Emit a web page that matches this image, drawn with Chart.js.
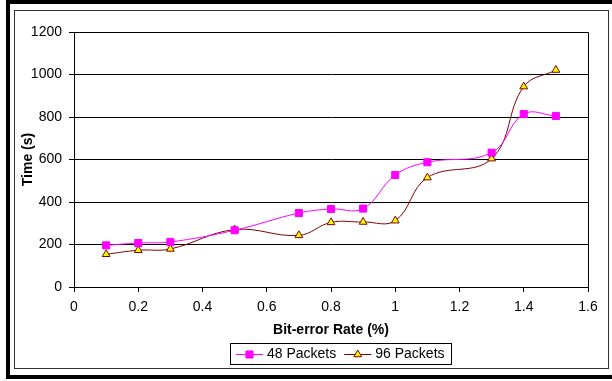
<!DOCTYPE html>
<html>
<head>
<meta charset="UTF-8" />
<title>Time vs Bit-error Rate</title>
<script src="https://cdn.jsdelivr.net/npm/chart.js"></script>
<style>
  body { margin: 0; background: #fff; width: 612px; height: 381px; overflow: hidden; position: relative; }
  .outer { position: absolute; left: 6px; top: 0; width: 620px; height: 371px; border: 4px solid #000; }
  .inner { position: absolute; left: 14px; top: 10px; width: 593px; height: 357px; border: 1px solid #333; }
  #chart { position: absolute; left: 15px; top: 11px; }
</style>
</head>
<body>
<div class="outer"></div>
<div class="inner"></div>
<canvas id="chart" width="592" height="356"></canvas>
<script>
// bit-error rate (%) at each measurement
const errorRates = [0.1, 0.2, 0.3, 0.5, 0.7, 0.8, 0.9, 1.0, 1.1, 1.3, 1.4, 1.5];
// time in seconds
const packets48 = [196, 207, 212, 267, 348, 367, 369, 527, 587, 632, 814, 805];
const packets96 = [154, 173, 179, 270, 243, 304, 306, 312, 515, 604, 943, 1021];
const seriesLabels = ['48 Packets', '96 Packets'];

const FONT = '"Liberation Sans", Arial, sans-serif';
const tickFont = { family: FONT, size: 14 };
const titleFont = { family: FONT, size: 14, weight: 'bold' };

const toPoints = ys => ys.map((y, i) => ({ x: errorRates[i], y }));

function marker(ctx, style, x, y, r) {
  ctx.beginPath();
  if (style === 'rect') {
    const s = Math.SQRT1_2 * r;
    ctx.rect(x - s, y - s, 2 * s, 2 * s);
  } else {
    let rad = 0;
    ctx.moveTo(x + Math.sin(rad) * r, y - Math.cos(rad) * r);
    rad += 2 * Math.PI / 3;
    ctx.lineTo(x + Math.sin(rad) * r, y - Math.cos(rad) * r);
    rad += 2 * Math.PI / 3;
    ctx.lineTo(x + Math.sin(rad) * r, y - Math.cos(rad) * r);
    ctx.closePath();
  }
  ctx.fill();
  ctx.stroke();
}

// top + right edge of the plot area
const plotFrame = {
  id: 'plotFrame',
  beforeDatasetsDraw(chart) {
    const { ctx, chartArea: a } = chart;
    const l = Math.round(a.left) + 0.5, t = Math.round(a.top) + 0.5;
    const r = Math.round(a.right) + 0.5, b = Math.round(a.bottom) + 0.5;
    ctx.save();
    ctx.strokeStyle = '#000';
    ctx.lineWidth = 1;
    ctx.beginPath();
    ctx.moveTo(l, t); ctx.lineTo(r, t); ctx.lineTo(r, b);
    ctx.stroke();
    ctx.restore();
  }
};

// boxed legend with line + marker samples
const boxLegend = {
  id: 'boxLegend',
  afterDraw(chart, args, opts) {
    const ctx = chart.ctx;
    const sets = chart.data.datasets;
    const lineLen = 27, gapIn = 4, gapOut = 8, padL = 6, padR = 6;
    ctx.save();
    ctx.font = '14px ' + FONT;
    let w = padL + padR;
    sets.forEach((ds, i) => {
      w += lineLen + gapIn + ctx.measureText(ds.label).width;
      if (i) w += gapOut;
    });
    w = Math.round(w);
    const x0 = opts.left, y0 = opts.top, h = opts.height;
    ctx.strokeStyle = '#000';
    ctx.lineWidth = 1;
    ctx.strokeRect(x0 + 0.5, y0 + 0.5, w, h);
    const cy = y0 + Math.round(h / 2) + 0.5;
    let x = x0 + padL;
    sets.forEach((ds, i) => {
      if (i) x += gapOut;
      ctx.strokeStyle = ds.borderColor;
      ctx.lineWidth = 1;
      ctx.beginPath();
      ctx.moveTo(x, cy);
      ctx.lineTo(x + lineLen, cy);
      ctx.stroke();
      ctx.fillStyle = ds.pointBackgroundColor;
      ctx.strokeStyle = ds.pointBorderColor;
      marker(ctx, ds.pointStyle, x + lineLen / 2, cy, ds.pointRadius);
      x += lineLen + gapIn;
      ctx.fillStyle = '#000';
      ctx.textBaseline = 'middle';
      ctx.fillText(ds.label, x, cy);
      x += ctx.measureText(ds.label).width;
    });
    ctx.restore();
  }
};

new Chart(document.getElementById('chart'), {
  type: 'line',
  data: {
    datasets: [{
      label: seriesLabels[0],
      data: toPoints(packets48),
      borderColor: '#FF00FF',
      borderWidth: 1,
      pointStyle: 'rect',
      pointRadius: 5,
      pointBackgroundColor: '#FF00FF',
      pointBorderColor: '#FF00FF',
      pointBorderWidth: 1,
      tension: 0.4
    }, {
      label: seriesLabels[1],
      data: toPoints(packets96),
      borderColor: '#800000',
      borderWidth: 1,
      pointStyle: 'triangle',
      pointRadius: 4.5,
      pointBackgroundColor: '#FFFF00',
      pointBorderColor: '#800000',
      pointBorderWidth: 1,
      tension: 0.4
    }]
  },
  options: {
    responsive: false,
    animation: false,
    events: [],
    layout: { padding: { left: 0, top: 21, right: 19, bottom: 28 } },
    plugins: {
      legend: { display: false },
      tooltip: { enabled: false },
      boxLegend: { left: 215, top: 332, height: 21 }
    },
    scales: {
      x: {
        type: 'linear',
        min: 0,
        max: 1.6,
        ticks: {
          stepSize: 0.2,
          autoSkip: false,
          maxRotation: 0,
          color: '#000',
          font: tickFont,
          padding: 7,
          callback: v => Number(v.toFixed(1)).toString()
        },
        grid: { drawOnChartArea: false, color: '#000', tickLength: 5 },
        border: { color: '#000' },
        title: { display: true, text: 'Bit-error Rate (%)', color: '#000', font: titleFont, padding: 0 },
        afterFit: s => { s.height = 52; }
      },
      y: {
        min: 0,
        max: 1200,
        ticks: { stepSize: 200, color: '#000', font: tickFont, padding: 7, callback: v => String(v) },
        grid: { color: '#000', tickLength: 5 },
        border: { color: '#000' },
        title: { display: true, text: 'Time (s)', color: '#000', font: titleFont, padding: { top: 5, bottom: 0 } },
        afterFit: s => { s.width = 59; }
      }
    }
  },
  plugins: [plotFrame, boxLegend]
});
</script>
</body>
</html>
